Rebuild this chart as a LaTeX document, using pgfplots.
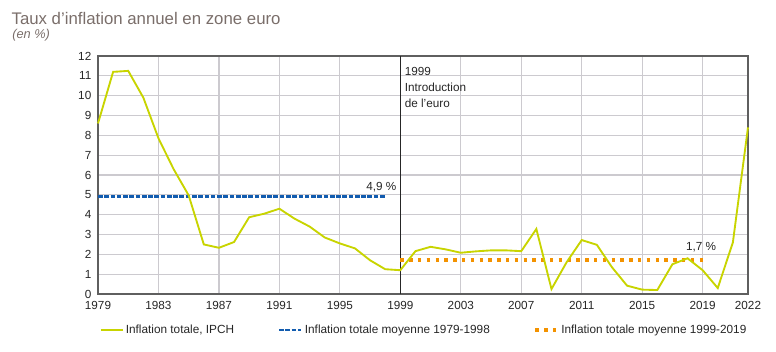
\documentclass[border=0pt]{standalone}
\usepackage{fontspec}
\setmainfont{Liberation Sans}
\usepackage{pgfplots}
\usepackage{pgfplotstable}
\pgfplotsset{compat=1.18}
\definecolor{ipch}{RGB}{200,212,0}
\definecolor{bleu}{RGB}{18,92,175}
\definecolor{orangeb}{RGB}{243,146,0}
\definecolor{titre}{RGB}{122,110,106}
\definecolor{grille}{RGB}{204,202,207}
\definecolor{axe}{RGB}{95,95,95}
\pgfplotstableread{
year value
1979 8.6
1980 11.2
1981 11.25
1982 9.9
1983 7.85
1984 6.3
1985 4.97
1986 2.5
1987 2.33
1988 2.62
1989 3.87
1990 4.05
1991 4.3
1992 3.8
1993 3.4
1994 2.85
1995 2.55
1996 2.3
1997 1.7
1998 1.25
1999 1.2
2000 2.16
2001 2.38
2002 2.25
2003 2.08
2004 2.15
2005 2.2
2006 2.2
2007 2.16
2008 3.28
2009 0.25
2010 1.6
2011 2.72
2012 2.48
2013 1.35
2014 0.42
2015 0.22
2016 0.2
2017 1.5
2018 1.8
2019 1.2
2020 0.3
2021 2.6
2022 8.4
}\ipchdata
\begin{document}
\begin{tikzpicture}[x=1pt,y=1pt]
\useasboundingbox (-73.5,-42.75) rectangle (508.5,220.5);
\begin{axis}[at={(0,0)}, anchor=south west, scale only axis,
  width=487.5pt, height=178.5pt,
  xmin=1979, xmax=2022, ymin=0, ymax=12,
  xtick={1979,1983,...,2019,2022}, ytick={0,1,...,12},
  grid=major, major grid style={grille, line width=0.9pt},
  axis line style={axe, line width=0.8pt},
  major tick length=0pt,
  /pgf/number format/assume math mode=true,
  tick label style={font=\fontsize{8.8}{10}\selectfont, text=black!85},
  x tick label style={/pgf/number format/1000 sep={}, yshift=-2.2pt},
  y tick label style={xshift=-1.5pt},
  legend columns=3,
  legend style={at={(axis description cs:0,0)}, anchor=west, yshift=-27pt, xshift=-2pt,
    draw=none, fill=none, font=\fontsize{8.85}{10}\selectfont, text=black!85,
    /tikz/every even column/.append style={column sep=31pt},
    nodes={inner sep=1.8pt}},
  legend image code/.code={\draw[#1] (0pt,0pt) -- (16.5pt,0pt);},
  clip=false,
]
\addlegendimage{ipch, line width=1.4pt}
\addlegendentry{Inflation totale, IPCH}
\addlegendimage{bleu, line width=2pt, dash pattern=on 3.5pt off 1.2pt}
\addlegendentry{Inflation totale moyenne 1979-1998}
\addlegendimage{orangeb, line width=2.5pt, dash pattern=on 2.6pt off 4pt}
\addlegendentry{Inflation totale moyenne 1999-2019}

\addplot[black!85, line width=1.1pt, forget plot] coordinates {(1999,0) (1999,12)};
\addplot[bleu, line width=2pt, dash pattern=on 3.5pt off 1.2pt, forget plot] coordinates {(1979,4.9) (1998,4.9)};
\addplot[orangeb, line width=2.5pt, dash pattern=on 2.6pt off 4pt, forget plot] coordinates {(1999,1.72) (2019,1.72)};
\addplot[ipch, line width=1.4pt, forget plot] table[x=year, y=value] {\ipchdata};

\node[anchor=base, font=\fontsize{8.8}{10}\selectfont, text=black!85] at (axis cs:1997.75,5.2) {4,9 \%};
\node[anchor=base, font=\fontsize{8.8}{10}\selectfont, text=black!85] at (axis cs:2018.9,2.18) {1,7 \%};
\node[anchor=base west, inner sep=0pt, font=\fontsize{8.8}{10}\selectfont, text=black!85] at (axis cs:1999.28,11.04) {1999};
\node[anchor=base west, inner sep=0pt, font=\fontsize{8.8}{10}\selectfont, text=black!85] at (axis cs:1999.28,10.2) {Introduction};
\node[anchor=base west, inner sep=0pt, font=\fontsize{8.8}{10}\selectfont, text=black!85] at (axis cs:1999.28,9.39) {de l'euro};
\end{axis}
\node[anchor=base west, inner sep=0pt, font=\fontsize{12.6}{14}\selectfont, text=titre] at (-65,202.3) {Taux d'inflation annuel en zone euro};
\node[anchor=base west, inner sep=0pt, font=\fontsize{9.6}{11}\selectfont\itshape, text=titre] at (-64.5,191.8) {(en \%)};
\end{tikzpicture}
\end{document}
